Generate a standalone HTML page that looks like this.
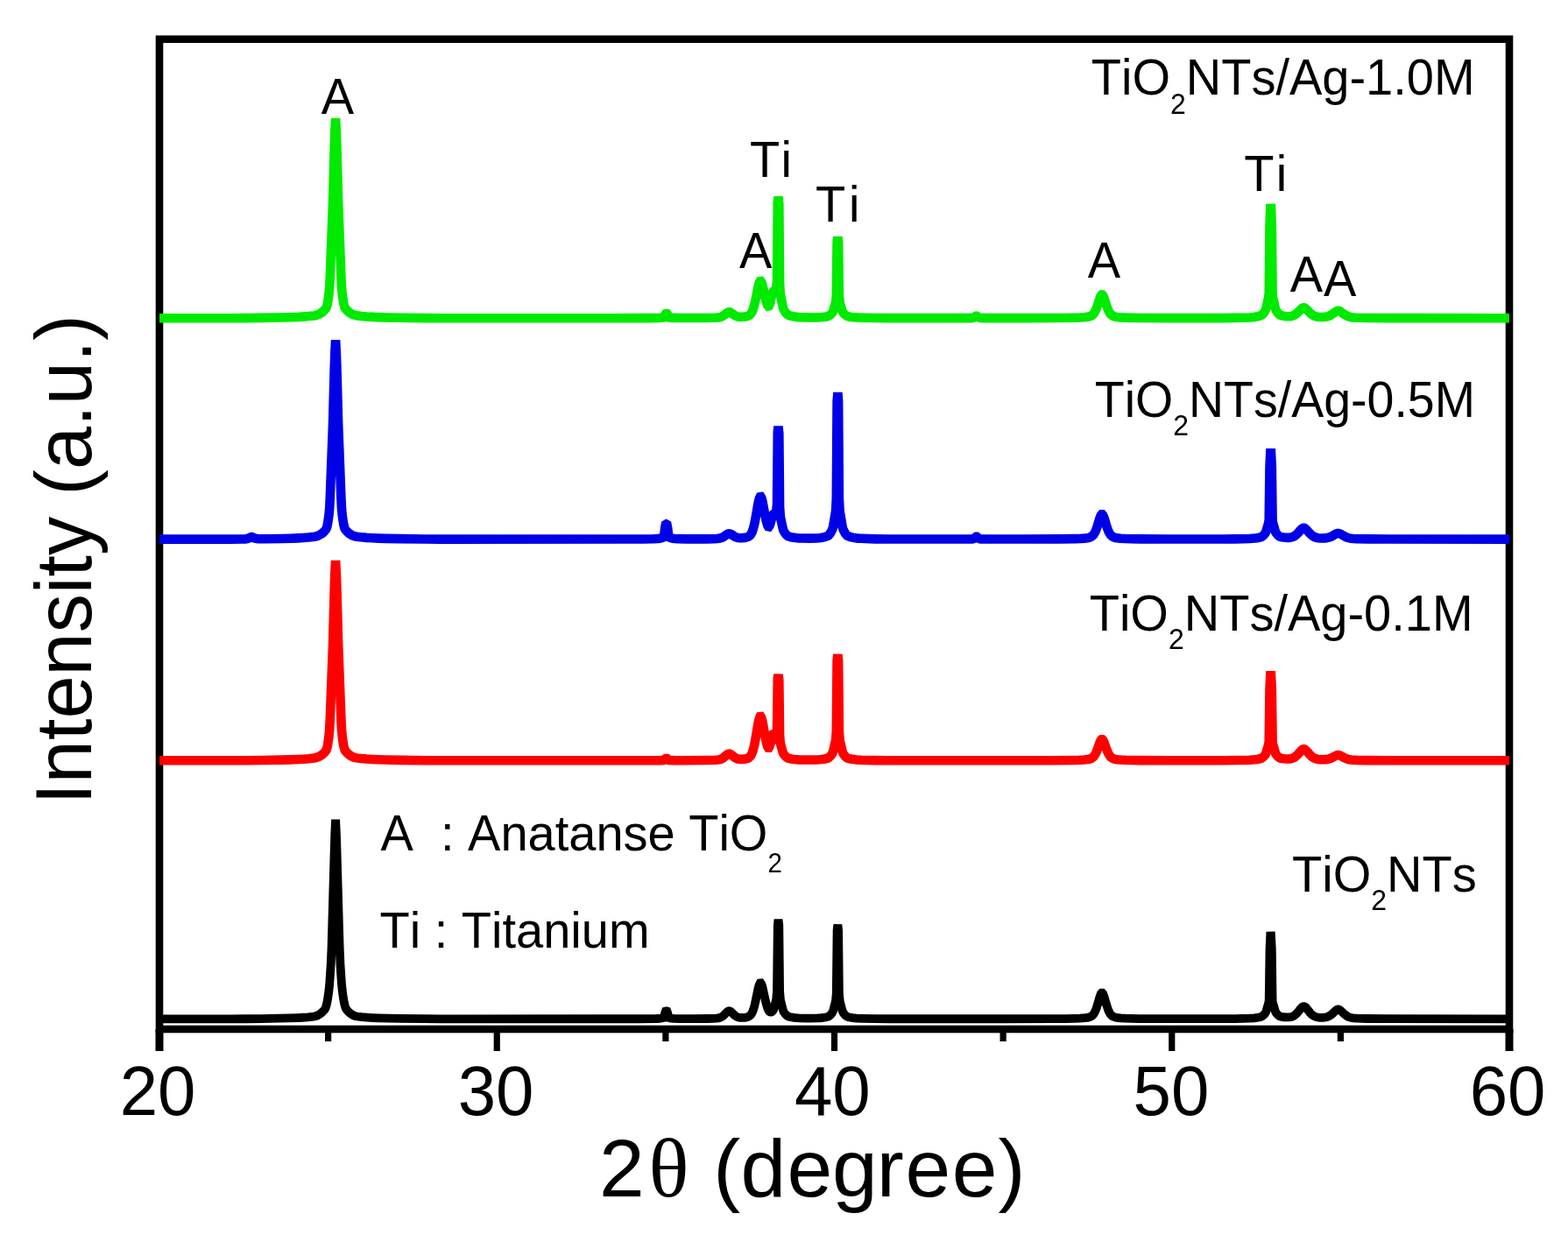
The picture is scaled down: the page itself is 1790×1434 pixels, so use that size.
<!DOCTYPE html>
<html><head><meta charset="utf-8"><title>XRD patterns</title>
<style>html,body{margin:0;padding:0;background:#fff;}svg{display:block;}</style>
</head><body>
<svg width="1790" height="1434" viewBox="0 0 1790 1434" style="white-space:pre;font-kerning:none;font-feature-settings:normal">
<rect width="1790" height="1434" fill="#fff"/>
<rect x="182" y="44.75" width="1541" height="1130.25" fill="none" stroke="#000" stroke-width="8.6"/>
<path d="M182.0 363.20 L264.4 363.20 L281.4 363.12 L299.9 362.92 L320.7 362.56 L331.5 362.30 L340.0 361.96 L346.1 361.59 L352.3 361.09 L358.4 360.42 L360.8 359.98 L362.3 359.52 L363.8 358.90 L366.1 357.64 L368.5 355.90 L370.8 353.62 L372.3 351.71 L373.1 349.69 L373.9 346.41 L374.6 341.92 L375.4 336.31 L376.2 328.09 L376.9 313.22 L378.5 271.23 L380.0 232.04 L381.6 172.32 L382.3 151.00 L383.1 135.30 L383.9 151.00 L384.6 172.32 L386.2 232.04 L387.7 271.23 L389.3 313.22 L390.0 328.09 L390.8 336.31 L391.6 341.92 L392.3 346.41 L393.1 349.69 L393.9 351.71 L395.4 353.62 L397.0 355.20 L398.5 356.53 L400.1 357.64 L401.6 358.53 L403.1 359.23 L404.7 359.76 L407.0 360.30 L412.4 360.94 L418.5 361.48 L424.7 361.88 L431.6 362.20 L440.1 362.45 L454.0 362.72 L483.3 363.11 L503.3 363.19 L695.2 363.18 L742.2 363.11 L752.2 362.93 L755.3 362.74 L757.6 362.46 L758.3 361.74 L759.1 359.48 L759.9 358.24 L760.6 358.12 L761.4 358.24 L762.2 359.47 L763.0 361.74 L763.7 362.45 L765.3 362.65 L769.1 362.92 L775.3 363.04 L789.2 363.07 L804.6 362.99 L816.1 362.77 L819.2 362.56 L821.5 362.20 L823.1 361.76 L824.6 361.10 L826.1 360.17 L830.0 357.23 L830.8 356.77 L831.5 356.46 L832.3 356.34 L833.1 356.43 L833.8 356.70 L834.6 357.13 L837.7 359.39 L839.2 360.37 L840.8 361.08 L842.3 361.53 L844.6 361.83 L847.7 361.82 L850.8 361.52 L853.1 361.03 L854.6 360.42 L855.4 359.96 L856.2 359.35 L857.0 358.53 L857.7 357.46 L858.5 356.08 L859.3 354.34 L860.0 352.19 L860.8 349.61 L861.6 346.60 L863.1 339.49 L865.4 328.02 L866.2 324.86 L867.0 322.48 L867.7 321.17 L868.5 321.07 L869.3 322.18 L870.1 324.34 L870.8 327.30 L873.1 338.05 L874.7 344.46 L875.5 346.92 L876.2 348.69 L877.0 349.58 L877.8 349.35 L878.5 347.92 L879.3 345.36 L880.8 338.32 L881.6 335.14 L882.4 333.20 L883.2 332.16 L883.9 331.46 L884.7 330.87 L885.5 330.59 L886.2 330.07 L887.0 320.55 L887.8 231.47 L888.5 224.44 L889.3 233.14 L890.1 324.20 L890.9 336.25 L893.2 347.74 L893.9 351.12 L894.7 353.39 L896.3 356.05 L897.8 358.05 L898.6 358.80 L899.3 359.39 L900.1 359.82 L903.2 360.77 L907.0 361.57 L909.4 361.88 L912.4 362.13 L923.2 362.42 L933.2 362.43 L936.3 362.29 L939.4 362.02 L943.3 361.46 L944.8 361.14 L945.6 360.87 L946.3 360.49 L947.9 359.40 L949.4 357.88 L950.2 356.96 L951.0 355.46 L951.7 353.21 L954.0 345.61 L954.8 337.57 L955.6 275.89 L956.4 270.40 L957.1 275.89 L957.9 337.57 L958.7 345.62 L961.0 353.22 L961.7 355.47 L962.5 356.97 L964.1 358.72 L965.6 360.03 L967.1 360.91 L967.9 361.18 L969.5 361.51 L971.8 361.90 L974.8 362.28 L980.2 362.66 L996.4 363.01 L1012.6 363.16 L1108.1 363.11 L1109.7 363.05 L1111.2 362.79 L1112.0 362.45 L1113.5 361.32 L1114.3 360.87 L1115.1 360.87 L1115.8 361.32 L1117.4 362.45 L1118.2 362.78 L1119.7 363.05 L1122.0 363.12 L1169.8 363.14 L1209.8 363.02 L1227.6 362.77 L1233.0 362.58 L1237.6 362.29 L1241.4 361.84 L1243.0 361.54 L1244.5 361.08 L1246.1 360.35 L1246.8 359.82 L1247.6 359.16 L1248.4 358.32 L1249.1 357.27 L1249.9 356.00 L1250.7 354.47 L1251.5 352.68 L1253.0 348.39 L1255.3 341.15 L1256.1 339.06 L1256.8 337.49 L1257.6 336.63 L1258.4 336.63 L1259.2 337.49 L1259.9 339.06 L1260.7 341.15 L1263.0 348.39 L1264.6 352.68 L1265.3 354.47 L1266.1 356.00 L1266.9 357.27 L1267.6 358.32 L1268.4 359.16 L1269.2 359.82 L1269.9 360.35 L1270.7 360.76 L1272.3 361.33 L1273.8 361.70 L1275.3 361.95 L1279.2 362.35 L1284.6 362.64 L1291.5 362.84 L1300.8 362.97 L1333.9 363.11 L1395.5 363.12 L1410.9 362.91 L1426.4 362.43 L1429.4 362.21 L1431.8 361.94 L1434.1 361.57 L1436.4 361.09 L1438.7 360.49 L1439.5 360.18 L1440.2 359.72 L1441.0 359.12 L1441.8 358.36 L1443.3 356.41 L1444.1 355.21 L1444.8 353.67 L1445.6 351.03 L1447.2 343.74 L1447.9 340.88 L1448.7 335.62 L1449.5 257.96 L1450.2 237.88 L1451.0 237.87 L1451.8 257.94 L1452.6 335.58 L1453.3 340.82 L1454.1 343.67 L1455.6 350.93 L1456.4 353.55 L1457.2 355.06 L1458.7 357.28 L1459.5 358.16 L1460.3 358.89 L1461.0 359.47 L1461.8 359.90 L1463.3 360.38 L1465.7 360.84 L1468.0 361.15 L1469.5 361.26 L1471.0 361.29 L1472.6 361.20 L1474.1 360.98 L1475.7 360.57 L1477.2 359.94 L1478.0 359.53 L1479.5 358.52 L1481.8 356.49 L1485.7 352.61 L1486.5 352.02 L1487.2 351.60 L1488.0 351.38 L1488.8 351.40 L1489.5 351.64 L1490.3 352.09 L1491.8 353.43 L1494.9 356.71 L1496.5 358.17 L1498.0 359.37 L1499.6 360.30 L1501.1 360.97 L1502.6 361.43 L1504.9 361.83 L1507.3 362.01 L1510.3 362.02 L1512.7 361.85 L1515.0 361.45 L1516.5 361.00 L1518.0 360.36 L1519.6 359.53 L1521.1 358.51 L1525.0 355.71 L1525.8 355.28 L1526.5 354.98 L1527.3 354.82 L1528.1 354.82 L1528.8 355.00 L1529.6 355.32 L1531.1 356.28 L1534.2 358.63 L1535.8 359.68 L1537.3 360.55 L1538.9 361.22 L1540.4 361.72 L1542.7 362.20 L1545.0 362.47 L1548.9 362.71 L1561.2 362.97 L1584.3 363.10 L1723.0 363.19" fill="none" stroke="#00ea00" stroke-width="10.6" stroke-linejoin="miter" stroke-miterlimit="4" stroke-linecap="butt"/>
<path d="M182.0 615.60 L262.9 615.58 L276.8 615.46 L279.9 615.35 L282.2 615.03 L283.7 614.53 L286.0 613.38 L286.8 613.14 L287.6 613.13 L288.3 613.36 L290.6 614.46 L291.4 614.73 L293.0 615.07 L295.3 615.23 L303.7 615.22 L321.5 614.94 L331.5 614.70 L340.0 614.36 L346.1 613.99 L352.3 613.49 L358.4 612.82 L360.8 612.38 L362.3 611.92 L363.8 611.31 L366.1 610.05 L368.5 608.32 L370.8 606.04 L372.3 604.14 L373.1 602.13 L373.9 598.85 L374.6 594.38 L375.4 588.79 L376.2 580.58 L376.9 565.76 L378.5 523.88 L380.0 484.79 L381.6 425.24 L382.3 403.98 L383.1 388.32 L383.9 403.98 L384.6 425.24 L386.2 484.79 L387.7 523.88 L389.3 565.76 L390.0 580.58 L390.8 588.79 L391.6 594.38 L392.3 598.85 L393.1 602.13 L393.9 604.14 L395.4 606.04 L397.0 607.62 L398.5 608.95 L400.1 610.05 L401.6 610.94 L403.1 611.64 L404.7 612.17 L407.0 612.71 L412.4 613.34 L418.5 613.88 L425.5 614.32 L432.4 614.63 L440.9 614.87 L457.1 615.17 L485.6 615.53 L502.5 615.59 L703.6 615.56 L732.9 615.48 L746.0 615.26 L749.9 615.05 L752.9 614.69 L755.3 614.16 L756.8 613.59 L757.6 613.20 L758.3 610.80 L759.1 603.14 L759.9 598.97 L760.6 598.56 L761.4 598.97 L762.2 603.14 L763.0 610.79 L763.7 613.19 L764.5 613.58 L766.0 614.14 L768.4 614.67 L770.7 614.96 L773.7 615.17 L783.8 615.38 L806.9 615.34 L814.6 615.21 L818.4 615.03 L821.5 614.63 L823.8 613.96 L824.6 613.63 L826.1 612.78 L830.0 610.09 L830.8 609.67 L831.5 609.39 L832.3 609.28 L833.1 609.36 L833.8 609.61 L834.6 609.99 L837.7 612.03 L839.2 612.91 L840.8 613.54 L842.3 613.94 L844.6 614.19 L846.9 614.17 L850.0 613.89 L852.3 613.45 L853.9 612.92 L854.6 612.52 L855.4 611.99 L856.2 611.28 L857.0 610.35 L857.7 609.11 L858.5 607.53 L859.3 605.52 L860.0 603.04 L860.8 600.07 L861.6 596.60 L863.1 588.40 L865.4 575.20 L866.2 571.55 L867.0 568.83 L867.7 567.33 L868.5 567.23 L869.3 568.54 L870.1 571.08 L870.8 574.53 L873.1 587.08 L874.7 594.63 L875.5 597.60 L876.2 599.82 L877.0 601.14 L877.8 601.34 L878.5 600.35 L879.3 598.25 L881.6 589.31 L882.4 587.60 L883.2 586.68 L883.9 586.05 L884.7 585.50 L885.5 585.23 L886.2 584.74 L887.0 575.91 L887.8 493.39 L888.5 486.88 L889.3 494.95 L890.1 579.31 L890.9 590.48 L893.2 601.15 L893.9 604.29 L894.7 606.40 L895.5 607.71 L897.0 609.88 L897.8 610.73 L898.6 611.43 L899.3 611.99 L900.1 612.39 L902.4 613.08 L904.7 613.60 L907.8 614.10 L911.7 614.44 L916.3 614.57 L924.0 614.60 L931.7 614.47 L934.8 614.27 L937.1 613.99 L940.2 613.40 L942.5 612.78 L944.8 611.96 L945.6 611.46 L946.3 610.77 L947.1 609.89 L947.9 608.81 L949.4 606.06 L950.2 604.39 L951.0 601.68 L951.7 597.62 L954.0 583.92 L954.8 569.40 L955.6 458.12 L956.4 448.22 L957.1 458.13 L957.9 569.41 L958.7 583.93 L961.0 597.63 L961.7 601.70 L962.5 604.41 L963.3 606.08 L964.8 608.83 L965.6 609.92 L966.4 610.81 L967.1 611.50 L967.9 612.00 L968.7 612.32 L971.0 613.07 L973.3 613.66 L975.6 614.12 L977.9 614.44 L980.2 614.65 L983.3 614.81 L998.7 615.35 L1014.1 615.56 L1092.7 615.56 L1108.1 615.50 L1109.7 615.43 L1110.5 615.33 L1111.2 615.12 L1112.0 614.72 L1113.5 613.41 L1114.3 612.88 L1115.1 612.88 L1115.8 613.41 L1117.4 614.72 L1118.2 615.12 L1118.9 615.33 L1119.7 615.43 L1122.0 615.51 L1169.0 615.53 L1209.8 615.41 L1227.6 615.14 L1233.0 614.94 L1237.6 614.63 L1241.4 614.16 L1243.0 613.84 L1244.5 613.35 L1246.1 612.57 L1246.8 612.02 L1247.6 611.31 L1248.4 610.42 L1249.1 609.31 L1249.9 607.96 L1250.7 606.33 L1251.5 604.44 L1253.0 599.88 L1255.3 592.20 L1256.1 589.98 L1256.8 588.31 L1257.6 587.40 L1258.4 587.40 L1259.2 588.31 L1259.9 589.98 L1260.7 592.20 L1263.0 599.88 L1264.6 604.44 L1265.3 606.33 L1266.1 607.95 L1266.9 609.31 L1267.6 610.42 L1268.4 611.31 L1269.2 612.02 L1269.9 612.57 L1270.7 613.01 L1272.3 613.62 L1273.8 614.01 L1275.3 614.28 L1279.2 614.69 L1284.6 615.01 L1291.5 615.21 L1300.8 615.35 L1332.4 615.50 L1394.0 615.53 L1410.2 615.36 L1426.4 614.97 L1431.8 614.58 L1434.8 614.17 L1437.1 613.76 L1438.7 613.43 L1439.5 613.19 L1440.2 612.83 L1441.0 612.36 L1441.8 611.76 L1443.3 610.23 L1444.1 609.29 L1444.8 608.08 L1445.6 606.01 L1447.2 600.29 L1447.9 598.05 L1448.7 593.92 L1449.5 533.03 L1450.2 517.28 L1451.0 517.27 L1451.8 533.00 L1452.6 593.88 L1453.3 597.99 L1454.1 600.21 L1455.6 605.90 L1456.4 607.95 L1457.2 609.13 L1458.7 610.86 L1460.3 612.12 L1461.0 612.57 L1461.8 612.90 L1463.3 613.26 L1465.7 613.59 L1469.5 613.86 L1471.0 613.83 L1472.6 613.70 L1474.1 613.42 L1475.7 612.95 L1477.2 612.25 L1478.0 611.80 L1479.5 610.69 L1481.8 608.47 L1484.9 604.99 L1485.7 604.21 L1486.5 603.57 L1487.2 603.11 L1488.0 602.87 L1488.8 602.88 L1489.5 603.14 L1490.3 603.62 L1491.8 605.08 L1494.9 608.64 L1496.5 610.22 L1498.0 611.53 L1499.6 612.53 L1501.1 613.26 L1502.6 613.77 L1504.9 614.22 L1507.3 614.44 L1510.3 614.51 L1512.7 614.40 L1515.0 614.10 L1516.5 613.76 L1518.0 613.27 L1519.6 612.61 L1521.1 611.82 L1525.0 609.61 L1526.5 609.04 L1527.3 608.91 L1528.1 608.92 L1528.8 609.06 L1529.6 609.31 L1531.1 610.08 L1534.2 611.95 L1535.8 612.78 L1537.3 613.47 L1538.9 614.00 L1540.4 614.40 L1542.7 614.78 L1545.0 615.00 L1548.9 615.19 L1562.0 615.41 L1585.1 615.51 L1723.0 615.59" fill="none" stroke="#0000e6" stroke-width="10.6" stroke-linejoin="miter" stroke-miterlimit="4" stroke-linecap="butt"/>
<path d="M182.0 868.30 L264.4 868.30 L281.4 868.22 L299.9 868.02 L320.7 867.66 L331.5 867.40 L340.0 867.06 L346.1 866.69 L352.3 866.18 L358.4 865.51 L360.8 865.07 L362.3 864.61 L363.8 863.99 L366.1 862.72 L368.5 860.98 L370.8 858.70 L372.3 856.78 L373.1 854.76 L373.9 851.47 L374.6 846.98 L375.4 841.36 L376.2 833.12 L376.9 818.22 L378.5 776.14 L380.0 736.87 L381.6 677.03 L382.3 655.68 L383.1 639.94 L383.9 655.68 L384.6 677.03 L386.2 736.87 L387.7 776.14 L389.3 818.22 L390.0 833.12 L390.8 841.36 L391.6 846.98 L392.3 851.47 L393.1 854.76 L393.9 856.78 L395.4 858.70 L397.0 860.28 L398.5 861.62 L400.1 862.72 L401.6 863.62 L403.1 864.32 L404.7 864.86 L407.0 865.39 L412.4 866.03 L418.5 866.57 L425.5 867.02 L432.4 867.32 L440.9 867.56 L457.8 867.88 L487.1 868.24 L502.5 868.29 L655.9 868.28 L748.3 868.20 L753.7 868.11 L757.6 867.93 L758.3 867.60 L759.1 866.58 L759.9 866.02 L760.6 865.96 L761.4 866.01 L762.2 866.57 L763.0 867.60 L763.7 867.92 L765.3 868.01 L769.9 868.14 L776.8 868.18 L804.6 868.07 L816.1 867.81 L819.2 867.58 L821.5 867.18 L823.1 866.69 L824.6 865.95 L826.1 864.92 L830.0 861.66 L830.8 861.15 L831.5 860.81 L832.3 860.68 L833.1 860.78 L833.8 861.08 L835.4 862.14 L838.5 864.64 L840.0 865.58 L841.5 866.23 L842.3 866.45 L843.9 866.72 L846.2 866.82 L849.3 866.64 L851.6 866.30 L853.1 865.88 L853.9 865.58 L854.6 865.17 L855.4 864.62 L856.2 863.89 L857.0 862.92 L857.7 861.64 L858.5 859.99 L859.3 857.90 L860.0 855.33 L860.8 852.24 L861.6 848.63 L863.1 840.09 L865.4 826.34 L866.2 822.56 L867.0 819.73 L867.7 818.19 L868.5 818.11 L869.3 819.50 L870.1 822.17 L870.8 825.79 L873.1 838.98 L874.7 846.91 L875.5 850.00 L876.2 852.28 L877.0 853.57 L877.8 853.62 L878.5 852.36 L879.3 849.88 L880.8 842.90 L881.6 839.88 L882.4 838.30 L883.2 838.09 L883.9 838.72 L884.7 839.74 L885.5 841.00 L886.2 841.91 L887.0 836.23 L887.8 774.60 L888.5 770.12 L889.3 776.48 L890.1 840.35 L890.9 848.89 L893.2 857.07 L893.9 859.47 L894.7 861.08 L895.5 862.09 L897.0 863.76 L897.8 864.42 L899.3 865.39 L900.1 865.70 L902.4 866.25 L904.7 866.67 L907.8 867.06 L911.7 867.34 L916.3 867.46 L924.0 867.51 L931.7 867.43 L934.8 867.30 L937.1 867.09 L940.2 866.67 L942.5 866.22 L944.8 865.63 L945.6 865.28 L946.3 864.78 L947.1 864.14 L947.9 863.36 L949.4 861.37 L950.2 860.16 L951.0 858.20 L951.7 855.26 L954.0 845.36 L954.8 834.85 L955.6 754.35 L956.4 747.18 L957.1 754.35 L957.9 834.86 L958.7 845.36 L961.0 855.28 L961.7 858.22 L962.5 860.18 L963.3 861.39 L964.8 863.38 L965.6 864.17 L966.4 864.81 L967.1 865.31 L967.9 865.68 L968.7 865.91 L971.0 866.45 L973.3 866.88 L977.9 867.45 L983.3 867.71 L998.7 868.11 L1014.1 868.26 L1141.3 868.26 L1199.1 868.19 L1224.5 867.97 L1232.2 867.76 L1237.6 867.47 L1241.4 867.07 L1243.0 866.79 L1244.5 866.38 L1246.1 865.72 L1246.8 865.24 L1247.6 864.64 L1248.4 863.88 L1249.1 862.93 L1249.9 861.78 L1250.7 860.39 L1251.5 858.78 L1253.0 854.89 L1255.3 848.33 L1256.1 846.44 L1256.8 845.01 L1257.6 844.24 L1258.4 844.24 L1259.2 845.01 L1259.9 846.44 L1260.7 848.33 L1263.0 854.89 L1264.6 858.78 L1265.3 860.39 L1266.1 861.78 L1266.9 862.93 L1267.6 863.88 L1268.4 864.64 L1269.2 865.24 L1269.9 865.72 L1270.7 866.09 L1272.3 866.61 L1273.8 866.94 L1275.3 867.17 L1279.2 867.52 L1284.6 867.79 L1291.5 867.97 L1300.8 868.09 L1333.9 868.22 L1395.5 868.23 L1410.9 868.06 L1426.4 867.68 L1431.8 867.30 L1434.8 866.89 L1437.1 866.49 L1439.5 865.93 L1440.2 865.57 L1441.0 865.10 L1441.8 864.52 L1443.3 863.01 L1444.1 862.08 L1444.8 860.89 L1445.6 858.85 L1447.2 853.21 L1447.9 851.00 L1448.7 846.93 L1449.5 786.92 L1450.2 771.39 L1451.0 771.39 L1451.8 786.89 L1452.6 846.89 L1453.3 850.94 L1454.1 853.13 L1455.6 858.73 L1456.4 860.75 L1457.2 861.92 L1458.7 863.62 L1460.3 864.86 L1461.0 865.30 L1461.8 865.63 L1463.3 865.98 L1465.7 866.31 L1469.5 866.56 L1471.0 866.53 L1472.6 866.39 L1474.1 866.11 L1475.7 865.63 L1477.2 864.92 L1478.0 864.47 L1479.5 863.33 L1481.8 861.07 L1484.9 857.54 L1485.7 856.75 L1486.5 856.10 L1487.2 855.63 L1488.0 855.39 L1488.8 855.40 L1489.5 855.66 L1490.3 856.15 L1491.8 857.63 L1494.9 861.25 L1496.5 862.86 L1498.0 864.19 L1499.6 865.21 L1501.1 865.95 L1502.6 866.47 L1504.9 866.93 L1507.3 867.16 L1510.3 867.24 L1512.7 867.15 L1515.0 866.89 L1516.5 866.57 L1518.0 866.13 L1519.6 865.53 L1525.0 862.79 L1526.5 862.26 L1527.3 862.15 L1528.1 862.16 L1528.8 862.29 L1529.6 862.52 L1531.1 863.22 L1534.2 864.94 L1535.8 865.70 L1537.3 866.34 L1538.9 866.83 L1540.4 867.19 L1542.7 867.54 L1545.0 867.74 L1548.9 867.91 L1562.0 868.12 L1585.9 868.22 L1723.0 868.29" fill="none" stroke="#ff0000" stroke-width="10.6" stroke-linejoin="miter" stroke-miterlimit="4" stroke-linecap="butt"/>
<path d="M182.0 1163.30 L264.4 1163.30 L280.6 1163.23 L298.3 1163.04 L317.6 1162.72 L329.9 1162.45 L339.2 1162.11 L345.3 1161.76 L351.5 1161.27 L357.7 1160.62 L360.0 1160.21 L362.3 1159.43 L364.6 1158.20 L366.9 1156.48 L369.2 1154.20 L370.8 1152.34 L371.5 1151.13 L372.3 1148.88 L373.1 1145.68 L373.9 1141.70 L374.6 1137.09 L375.4 1131.43 L376.2 1123.48 L376.9 1113.40 L377.7 1101.11 L378.5 1082.89 L379.2 1059.24 L381.6 974.70 L382.3 952.47 L383.1 935.62 L383.9 952.47 L384.6 974.70 L387.0 1059.24 L387.7 1082.89 L388.5 1101.11 L389.3 1113.40 L390.0 1123.48 L390.8 1131.43 L391.6 1137.09 L392.3 1141.70 L393.1 1145.68 L393.9 1148.88 L394.7 1151.13 L395.4 1152.34 L397.7 1155.02 L399.3 1156.48 L400.8 1157.68 L402.4 1158.66 L403.9 1159.43 L405.4 1160.00 L407.8 1160.52 L413.1 1161.12 L419.3 1161.65 L425.5 1162.03 L432.4 1162.33 L456.3 1162.86 L484.8 1163.22 L502.5 1163.29 L689.0 1163.27 L729.8 1163.23 L745.2 1163.12 L749.9 1162.99 L752.9 1162.79 L755.3 1162.51 L757.6 1162.00 L758.3 1160.73 L759.1 1156.67 L759.9 1154.46 L760.6 1154.24 L761.4 1154.46 L762.2 1156.67 L763.0 1160.72 L763.7 1162.00 L765.3 1162.36 L766.8 1162.61 L769.1 1162.84 L776.1 1163.08 L790.7 1163.14 L807.6 1163.02 L813.8 1162.87 L817.7 1162.67 L820.0 1162.39 L821.5 1162.03 L822.3 1161.78 L823.8 1161.05 L825.4 1159.99 L826.9 1158.59 L830.0 1155.41 L830.8 1154.80 L831.5 1154.39 L832.3 1154.24 L833.1 1154.36 L833.8 1154.74 L834.6 1155.32 L835.4 1156.04 L838.5 1159.09 L840.0 1160.25 L841.5 1161.06 L843.1 1161.55 L844.6 1161.80 L846.9 1161.90 L849.3 1161.80 L851.6 1161.54 L853.1 1161.20 L854.6 1160.63 L855.4 1160.18 L856.2 1159.59 L857.0 1158.80 L857.7 1157.76 L858.5 1156.42 L859.3 1154.72 L860.0 1152.63 L860.8 1150.12 L861.6 1147.18 L863.1 1140.24 L865.4 1129.07 L866.2 1125.99 L867.0 1123.69 L867.7 1122.43 L868.5 1122.36 L869.3 1123.48 L870.1 1125.64 L870.8 1128.59 L873.9 1142.78 L875.5 1148.67 L876.2 1150.99 L877.0 1152.86 L877.8 1154.21 L878.5 1155.07 L879.3 1155.50 L880.1 1155.56 L880.8 1155.28 L881.6 1154.73 L882.4 1153.93 L883.2 1152.35 L883.9 1149.81 L886.2 1140.95 L887.0 1131.26 L887.8 1056.41 L888.5 1049.80 L889.3 1056.53 L890.1 1131.50 L890.9 1141.32 L893.2 1150.66 L893.9 1153.43 L894.7 1155.28 L895.5 1156.43 L897.0 1158.33 L897.8 1159.08 L898.6 1159.70 L899.3 1160.18 L900.1 1160.53 L901.6 1160.95 L904.0 1161.45 L906.3 1161.83 L909.4 1162.18 L912.4 1162.37 L923.2 1162.55 L933.2 1162.47 L936.3 1162.29 L939.4 1161.97 L943.3 1161.31 L944.8 1160.94 L945.6 1160.62 L946.3 1160.18 L947.9 1158.92 L949.4 1157.15 L950.2 1156.08 L951.0 1154.34 L951.7 1151.72 L954.0 1142.92 L954.8 1133.59 L955.6 1062.05 L956.4 1055.68 L957.1 1062.05 L957.9 1133.59 L958.7 1142.92 L961.0 1151.73 L961.7 1154.35 L962.5 1156.09 L963.3 1157.17 L964.8 1158.94 L965.6 1159.63 L966.4 1160.21 L967.1 1160.65 L967.9 1160.97 L968.7 1161.18 L971.0 1161.66 L973.3 1162.04 L977.9 1162.54 L984.1 1162.80 L999.5 1163.14 L1015.7 1163.27 L1145.9 1163.25 L1200.6 1163.15 L1216.0 1163.04 L1226.0 1162.86 L1233.0 1162.60 L1238.4 1162.21 L1240.7 1161.91 L1242.2 1161.63 L1244.5 1160.94 L1246.1 1160.12 L1246.8 1159.53 L1247.6 1158.79 L1248.4 1157.85 L1249.1 1156.69 L1249.9 1155.27 L1250.7 1153.56 L1251.5 1151.57 L1253.0 1146.78 L1255.3 1138.71 L1256.1 1136.38 L1256.8 1134.62 L1257.6 1133.66 L1258.4 1133.66 L1259.2 1134.62 L1259.9 1136.38 L1260.7 1138.71 L1263.0 1146.78 L1264.6 1151.57 L1265.3 1153.56 L1266.1 1155.27 L1266.9 1156.69 L1267.6 1157.85 L1268.4 1158.79 L1269.2 1159.53 L1269.9 1160.12 L1270.7 1160.57 L1272.3 1161.22 L1273.8 1161.63 L1275.3 1161.91 L1279.2 1162.35 L1284.6 1162.67 L1291.5 1162.89 L1300.8 1163.04 L1332.4 1163.20 L1393.2 1163.22 L1410.2 1163.06 L1426.4 1162.67 L1431.8 1162.29 L1434.8 1161.90 L1437.1 1161.50 L1439.5 1160.95 L1441.0 1160.14 L1441.8 1159.57 L1443.3 1158.09 L1444.1 1157.18 L1444.8 1156.02 L1445.6 1154.02 L1447.2 1148.51 L1447.9 1146.35 L1448.7 1142.37 L1449.5 1083.71 L1450.2 1068.54 L1451.0 1068.53 L1451.8 1083.68 L1452.6 1142.32 L1453.3 1146.28 L1454.1 1148.42 L1455.6 1153.89 L1456.4 1155.86 L1457.2 1157.00 L1458.7 1158.66 L1460.3 1159.87 L1461.0 1160.30 L1461.8 1160.61 L1463.3 1160.95 L1465.7 1161.26 L1468.0 1161.44 L1469.5 1161.47 L1471.0 1161.42 L1472.6 1161.25 L1474.1 1160.93 L1475.7 1160.40 L1477.2 1159.62 L1478.0 1159.12 L1479.5 1157.86 L1481.1 1156.28 L1484.9 1151.50 L1485.7 1150.64 L1486.5 1149.92 L1487.2 1149.40 L1488.0 1149.13 L1488.8 1149.14 L1489.5 1149.42 L1490.3 1149.96 L1491.1 1150.69 L1495.7 1156.42 L1497.2 1158.02 L1498.8 1159.29 L1500.3 1160.23 L1501.9 1160.90 L1504.2 1161.50 L1506.5 1161.79 L1509.6 1161.86 L1511.9 1161.70 L1514.2 1161.28 L1516.5 1160.48 L1518.0 1159.66 L1519.6 1158.58 L1521.1 1157.25 L1525.0 1153.62 L1525.8 1153.06 L1526.5 1152.67 L1527.3 1152.46 L1528.1 1152.47 L1528.8 1152.69 L1529.6 1153.11 L1531.1 1154.35 L1534.2 1157.40 L1535.8 1158.76 L1537.3 1159.88 L1538.9 1160.75 L1540.4 1161.39 L1542.7 1162.01 L1545.0 1162.37 L1548.9 1162.67 L1554.3 1162.87 L1561.2 1163.01 L1584.3 1163.18 L1723.0 1163.28" fill="none" stroke="#000000" stroke-width="9.8" stroke-linejoin="miter" stroke-miterlimit="4" stroke-linecap="butt"/>
<line x1="182.00" y1="1175" x2="182.00" y2="1200" stroke="#000" stroke-width="9"/>
<line x1="567.25" y1="1175" x2="567.25" y2="1200" stroke="#000" stroke-width="7.2"/>
<line x1="952.50" y1="1175" x2="952.50" y2="1200" stroke="#000" stroke-width="7.2"/>
<line x1="1337.75" y1="1175" x2="1337.75" y2="1200" stroke="#000" stroke-width="7.2"/>
<line x1="1723.00" y1="1175" x2="1723.00" y2="1200" stroke="#000" stroke-width="9"/>
<line x1="374.62" y1="1175" x2="374.62" y2="1189" stroke="#000" stroke-width="7.2"/>
<line x1="759.88" y1="1175" x2="759.88" y2="1189" stroke="#000" stroke-width="7.2"/>
<line x1="1145.12" y1="1175" x2="1145.12" y2="1189" stroke="#000" stroke-width="7.2"/>
<line x1="1530.38" y1="1175" x2="1530.38" y2="1189" stroke="#000" stroke-width="7.2"/>
<g transform="translate(0 1273.00) scale(1 1.03) translate(0 -1273.00)"><text x="136.68" y="1273" font-size="78" font-family="'Liberation Sans', Arial, sans-serif">20</text></g>
<g transform="translate(0 1273.00) scale(1 1.03) translate(0 -1273.00)"><text x="522.76" y="1273" font-size="78" font-family="'Liberation Sans', Arial, sans-serif">30</text></g>
<g transform="translate(0 1273.00) scale(1 1.03) translate(0 -1273.00)"><text x="906.90" y="1273" font-size="78" font-family="'Liberation Sans', Arial, sans-serif">40</text></g>
<g transform="translate(0 1273.00) scale(1 1.03) translate(0 -1273.00)"><text x="1293.58" y="1273" font-size="78" font-family="'Liberation Sans', Arial, sans-serif">50</text></g>
<g transform="translate(0 1273.00) scale(1 1.03) translate(0 -1273.00)"><text x="1677.76" y="1273" font-size="78" font-family="'Liberation Sans', Arial, sans-serif">60</text></g>
<text y="1366" font-size="93" font-family="'Liberation Sans', Arial, sans-serif"><tspan x="683.92" font-family="'Liberation Sans', Arial, sans-serif" font-size="93">2</tspan><tspan x="740.60" font-family="'Liberation Serif', 'Times New Roman', serif" font-size="96">θ</tspan><tspan> </tspan><tspan x="814.23" font-family="'Liberation Sans', Arial, sans-serif" font-size="93">(</tspan><tspan x="845.49" font-family="'Liberation Sans', Arial, sans-serif" font-size="93">d</tspan><tspan x="898.55" font-family="'Liberation Sans', Arial, sans-serif" font-size="93">e</tspan><tspan x="950.09" font-family="'Liberation Sans', Arial, sans-serif" font-size="93">g</tspan><tspan x="1000.82" font-family="'Liberation Sans', Arial, sans-serif" font-size="93">r</tspan><tspan x="1033.55" font-family="'Liberation Sans', Arial, sans-serif" font-size="93">e</tspan><tspan x="1086.75" font-family="'Liberation Sans', Arial, sans-serif" font-size="93">e</tspan><tspan x="1139.50">)</tspan></text>
<text transform="translate(104 918.70) rotate(-90) scale(1 1.035)" x="0" y="0" font-size="88.3" font-family="'Liberation Sans', Arial, sans-serif">Intensity (a.u.)</text>
<g transform="translate(0 108.40) scale(1 1.04) translate(0 -108.40)"><text font-size="56" font-family="'Liberation Sans', Arial, sans-serif" fill="#000"><tspan x="1245.74" y="108.40">TiO</tspan><tspan x="1335.95" y="128.88" font-size="32">2</tspan><tspan x="1353.75" y="108.40">NTs/Ag-1.0M</tspan></text></g>
<g transform="translate(0 475.60) scale(1 1.04) translate(0 -475.60)"><text font-size="55.5" font-family="'Liberation Sans', Arial, sans-serif" fill="#000"><tspan x="1249.85" y="475.60">TiO</tspan><tspan x="1339.26" y="496.08" font-size="32">2</tspan><tspan x="1357.05" y="475.60">NTs/Ag-0.5M</tspan></text></g>
<g transform="translate(0 719.70) scale(1 1.04) translate(0 -719.70)"><text font-size="56" font-family="'Liberation Sans', Arial, sans-serif" fill="#000"><tspan x="1243.74" y="719.70">TiO</tspan><tspan x="1333.95" y="740.18" font-size="32">2</tspan><tspan x="1351.75" y="719.70">NTs/Ag-0.1M</tspan></text></g>
<g transform="translate(0 1017.60) scale(1 1.04) translate(0 -1017.60)"><text font-size="56" font-family="'Liberation Sans', Arial, sans-serif" fill="#000"><tspan x="1475.04" y="1017.60">TiO</tspan><tspan x="1565.25" y="1038.08" font-size="32">2</tspan><tspan x="1583.05" y="1017.60">NTs</tspan></text></g>
<g transform="translate(0 971.40) scale(1 1.04) translate(0 -971.40)"><text font-size="56" font-family="'Liberation Sans', Arial, sans-serif" fill="#000"><tspan x="434.49" y="971.40">A  : Anatanse TiO</tspan><tspan x="876.48" y="995.44" font-size="29.5">2</tspan></text></g>
<g transform="translate(0 1082.50) scale(1 1.04) translate(0 -1082.50)"><text x="433.54" y="1082.50" font-size="56" font-family="'Liberation Sans', Arial, sans-serif" fill="#000">Ti : Titanium</text></g>
<g transform="translate(0 129.80) scale(1 1.04) translate(0 -129.80)"><text x="366.69" y="129.80" font-size="56" font-family="'Liberation Sans', Arial, sans-serif" fill="#000">A</text></g>
<g transform="translate(0 202.10) scale(1 1.04) translate(0 -202.10)"><text y="202.10" font-size="56" font-family="'Liberation Sans', Arial, sans-serif"><tspan x="855.94">T</tspan><tspan x="891.45">i</tspan></text></g>
<g transform="translate(0 252.60) scale(1 1.04) translate(0 -252.60)"><text y="252.60" font-size="56" font-family="'Liberation Sans', Arial, sans-serif"><tspan x="931.04">T</tspan><tspan x="968.95">i</tspan></text></g>
<g transform="translate(0 306.40) scale(1 1.04) translate(0 -306.40)"><text x="844.09" y="306.40" font-size="56" font-family="'Liberation Sans', Arial, sans-serif" fill="#000">A</text></g>
<g transform="translate(0 317.20) scale(1 1.04) translate(0 -317.20)"><text x="1241.69" y="317.20" font-size="56" font-family="'Liberation Sans', Arial, sans-serif" fill="#000">A</text></g>
<g transform="translate(0 218.40) scale(1 1.04) translate(0 -218.40)"><text y="218.40" font-size="56" font-family="'Liberation Sans', Arial, sans-serif"><tspan x="1420.24">T</tspan><tspan x="1456.85">i</tspan></text></g>
<g transform="translate(0 333.40) scale(1 1.04) translate(0 -333.40)"><text x="1472.69" y="333.40" font-size="56" font-family="'Liberation Sans', Arial, sans-serif" fill="#000">A</text></g>
<g transform="translate(0 338.10) scale(1 1.04) translate(0 -338.10)"><text x="1510.89" y="338.10" font-size="56" font-family="'Liberation Sans', Arial, sans-serif" fill="#000">A</text></g>
</svg>
</body></html>
